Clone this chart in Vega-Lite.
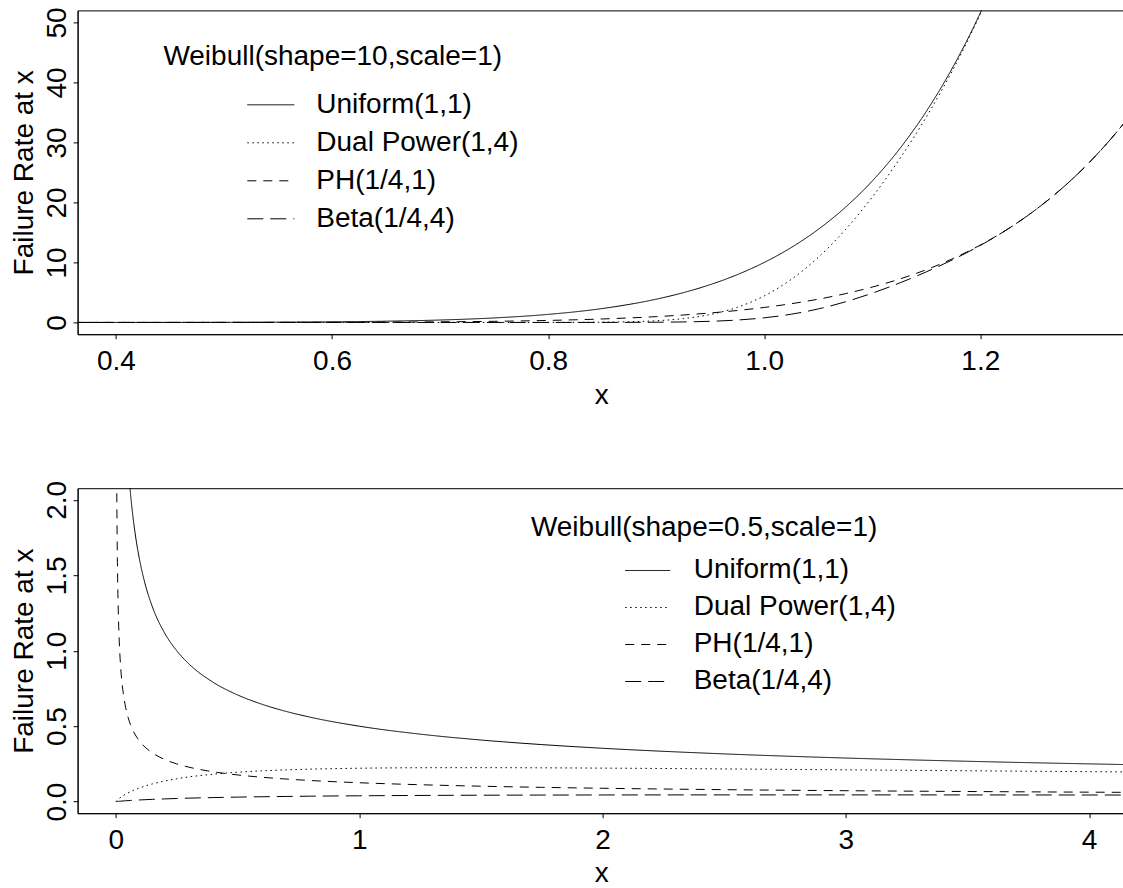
{
  "$schema": "https://vega.github.io/schema/vega-lite/v6.json",
  "background": "white",
  "padding": {"left": 9.6, "top": 6.4, "right": 0, "bottom": 0},
  "datasets": {
    "weibull10": [
      {"x": 0.36, "Uniform(1,1)": 0.00101, "Dual Power(1,4)": 0, "PH(1/4,1)": 0.00025, "Beta(1/4,4)": 0},
      {"x": 0.4, "Uniform(1,1)": 0.00262, "Dual Power(1,4)": 0, "PH(1/4,1)": 0.00066, "Beta(1/4,4)": 0},
      {"x": 0.45, "Uniform(1,1)": 0.0076, "Dual Power(1,4)": 0, "PH(1/4,1)": 0.0019, "Beta(1/4,4)": 0},
      {"x": 0.5, "Uniform(1,1)": 0.0195, "Dual Power(1,4)": 0, "PH(1/4,1)": 0.0049, "Beta(1/4,4)": 0},
      {"x": 0.55, "Uniform(1,1)": 0.046, "Dual Power(1,4)": 0, "PH(1/4,1)": 0.0115, "Beta(1/4,4)": 0},
      {"x": 0.6, "Uniform(1,1)": 0.1008, "Dual Power(1,4)": 0.0000001, "PH(1/4,1)": 0.0252, "Beta(1/4,4)": 0},
      {"x": 0.65, "Uniform(1,1)": 0.2071, "Dual Power(1,4)": 0.000002, "PH(1/4,1)": 0.0518, "Beta(1/4,4)": 0.0000002},
      {"x": 0.7, "Uniform(1,1)": 0.4035, "Dual Power(1,4)": 0.000034, "PH(1/4,1)": 0.1009, "Beta(1/4,4)": 0.0000033},
      {"x": 0.75, "Uniform(1,1)": 0.7508, "Dual Power(1,4)": 0.000466, "PH(1/4,1)": 0.1877, "Beta(1/4,4)": 0.0000463},
      {"x": 0.8, "Uniform(1,1)": 1.3422, "Dual Power(1,4)": 0.005089, "PH(1/4,1)": 0.3356, "Beta(1/4,4)": 0.000525},
      {"x": 0.85, "Uniform(1,1)": 2.316, "Dual Power(1,4)": 0.04346, "PH(1/4,1)": 0.579, "Beta(1/4,4)": 0.004792},
      {"x": 0.9, "Uniform(1,1)": 3.874, "Dual Power(1,4)": 0.28097, "PH(1/4,1)": 0.9686, "Beta(1/4,4)": 0.034516},
      {"x": 0.925, "Uniform(1,1)": 4.958, "Dual Power(1,4)": 0.6356, "PH(1/4,1)": 1.2394, "Beta(1/4,4)": 0.08399},
      {"x": 0.95, "Uniform(1,1)": 6.302, "Dual Power(1,4)": 1.3207, "PH(1/4,1)": 1.5756, "Beta(1/4,4)": 0.18995},
      {"x": 0.975, "Uniform(1,1)": 7.963, "Dual Power(1,4)": 2.5206, "PH(1/4,1)": 1.9906, "Beta(1/4,4)": 0.3981},
      {"x": 1.0, "Uniform(1,1)": 10, "Dual Power(1,4)": 4.4229, "PH(1/4,1)": 2.5, "Beta(1/4,4)": 0.76954},
      {"x": 1.025, "Uniform(1,1)": 12.489, "Dual Power(1,4)": 7.177, "PH(1/4,1)": 3.1222, "Beta(1/4,4)": 1.37062},
      {"x": 1.05, "Uniform(1,1)": 15.513, "Dual Power(1,4)": 10.854, "PH(1/4,1)": 3.8783, "Beta(1/4,4)": 2.25179},
      {"x": 1.075, "Uniform(1,1)": 19.173, "Dual Power(1,4)": 15.451, "PH(1/4,1)": 4.7932, "Beta(1/4,4)": 3.42967},
      {"x": 1.1, "Uniform(1,1)": 23.579, "Dual Power(1,4)": 20.905, "PH(1/4,1)": 5.8949, "Beta(1/4,4)": 4.87874},
      {"x": 1.125, "Uniform(1,1)": 28.865, "Dual Power(1,4)": 27.171, "PH(1/4,1)": 7.2163, "Beta(1/4,4)": 6.55628},
      {"x": 1.15, "Uniform(1,1)": 35.179, "Dual Power(1,4)": 34.253, "PH(1/4,1)": 8.7947, "Beta(1/4,4)": 8.42862},
      {"x": 1.175, "Uniform(1,1)": 42.692, "Dual Power(1,4)": 42.267, "PH(1/4,1)": 10.673, "Beta(1/4,4)": 10.5039},
      {"x": 1.2, "Uniform(1,1)": 51.598, "Dual Power(1,4)": 51.44, "PH(1/4,1)": 12.8995, "Beta(1/4,4)": 12.8362},
      {"x": 1.225, "Uniform(1,1)": 62.12, "Dual Power(1,4)": 62.07, "PH(1/4,1)": 15.53, "Beta(1/4,4)": 15.511},
      {"x": 1.25, "Uniform(1,1)": null, "Dual Power(1,4)": null, "PH(1/4,1)": 18.626, "Beta(1/4,4)": 18.622},
      {"x": 1.275, "Uniform(1,1)": null, "Dual Power(1,4)": null, "PH(1/4,1)": 22.261, "Beta(1/4,4)": 22.26},
      {"x": 1.3, "Uniform(1,1)": null, "Dual Power(1,4)": null, "PH(1/4,1)": 26.511, "Beta(1/4,4)": 26.51},
      {"x": 1.325, "Uniform(1,1)": null, "Dual Power(1,4)": null, "PH(1/4,1)": 31.47, "Beta(1/4,4)": 31.47},
      {"x": 1.34, "Uniform(1,1)": null, "Dual Power(1,4)": null, "PH(1/4,1)": 34.83, "Beta(1/4,4)": 34.83}
    ],
    "weibull05": [
      {"x": 0, "Uniform(1,1)": null, "Dual Power(1,4)": 0, "PH(1/4,1)": null, "Beta(1/4,4)": 0},
      {"x": 0.001, "Uniform(1,1)": 15.811, "Dual Power(1,4)": 0.001848, "PH(1/4,1)": 3.953, "Beta(1/4,4)": 0.00018},
      {"x": 0.002, "Uniform(1,1)": 11.18, "Dual Power(1,4)": 0.003578, "PH(1/4,1)": 2.795, "Beta(1/4,4)": 0.000352},
      {"x": 0.003, "Uniform(1,1)": 9.1287, "Dual Power(1,4)": 0.005234, "PH(1/4,1)": 2.2822, "Beta(1/4,4)": 0.00052},
      {"x": 0.004, "Uniform(1,1)": 7.9057, "Dual Power(1,4)": 0.006834, "PH(1/4,1)": 1.9764, "Beta(1/4,4)": 0.000683},
      {"x": 0.006, "Uniform(1,1)": 6.455, "Dual Power(1,4)": 0.009895, "PH(1/4,1)": 1.6137, "Beta(1/4,4)": 0.000998},
      {"x": 0.008, "Uniform(1,1)": 5.5902, "Dual Power(1,4)": 0.012807, "PH(1/4,1)": 1.3975, "Beta(1/4,4)": 0.001304},
      {"x": 0.01, "Uniform(1,1)": 5.0, "Dual Power(1,4)": 0.015598, "PH(1/4,1)": 1.25, "Beta(1/4,4)": 0.0016},
      {"x": 0.015, "Uniform(1,1)": 4.0825, "Dual Power(1,4)": 0.022134, "PH(1/4,1)": 1.0206, "Beta(1/4,4)": 0.00231},
      {"x": 0.02, "Uniform(1,1)": 3.5355, "Dual Power(1,4)": 0.028166, "PH(1/4,1)": 0.8839, "Beta(1/4,4)": 0.002982},
      {"x": 0.03, "Uniform(1,1)": 2.88675, "Dual Power(1,4)": 0.039084, "PH(1/4,1)": 0.72169, "Beta(1/4,4)": 0.004237},
      {"x": 0.04, "Uniform(1,1)": 2.5, "Dual Power(1,4)": 0.04882, "PH(1/4,1)": 0.625, "Beta(1/4,4)": 0.005395},
      {"x": 0.05, "Uniform(1,1)": 2.23607, "Dual Power(1,4)": 0.057619, "PH(1/4,1)": 0.559017, "Beta(1/4,4)": 0.006479},
      {"x": 0.06, "Uniform(1,1)": 2.04124, "Dual Power(1,4)": 0.065716, "PH(1/4,1)": 0.51031, "Beta(1/4,4)": 0.007504},
      {"x": 0.07, "Uniform(1,1)": 1.88982, "Dual Power(1,4)": 0.073134, "PH(1/4,1)": 0.472456, "Beta(1/4,4)": 0.00847},
      {"x": 0.08, "Uniform(1,1)": 1.76777, "Dual Power(1,4)": 0.079979, "PH(1/4,1)": 0.441942, "Beta(1/4,4)": 0.009384},
      {"x": 0.09, "Uniform(1,1)": 1.666667, "Dual Power(1,4)": 0.086379, "PH(1/4,1)": 0.416667, "Beta(1/4,4)": 0.010259},
      {"x": 0.1, "Uniform(1,1)": 1.58114, "Dual Power(1,4)": 0.092359, "PH(1/4,1)": 0.395285, "Beta(1/4,4)": 0.011095},
      {"x": 0.12, "Uniform(1,1)": 1.44338, "Dual Power(1,4)": 0.103233, "PH(1/4,1)": 0.360844, "Beta(1/4,4)": 0.012663},
      {"x": 0.15, "Uniform(1,1)": 1.29099, "Dual Power(1,4)": 0.117327, "PH(1/4,1)": 0.322749, "Beta(1/4,4)": 0.014796},
      {"x": 0.2, "Uniform(1,1)": 1.11803, "Dual Power(1,4)": 0.13638, "PH(1/4,1)": 0.279508, "Beta(1/4,4)": 0.017891},
      {"x": 0.25, "Uniform(1,1)": 1.0, "Dual Power(1,4)": 0.151419, "PH(1/4,1)": 0.25, "Beta(1/4,4)": 0.020537},
      {"x": 0.3, "Uniform(1,1)": 0.912871, "Dual Power(1,4)": 0.163547, "PH(1/4,1)": 0.228218, "Beta(1/4,4)": 0.022834},
      {"x": 0.4, "Uniform(1,1)": 0.790569, "Dual Power(1,4)": 0.181775, "PH(1/4,1)": 0.197642, "Beta(1/4,4)": 0.026646},
      {"x": 0.5, "Uniform(1,1)": 0.707107, "Dual Power(1,4)": 0.194526, "PH(1/4,1)": 0.176777, "Beta(1/4,4)": 0.029678},
      {"x": 0.6, "Uniform(1,1)": 0.645497, "Dual Power(1,4)": 0.203667, "PH(1/4,1)": 0.161374, "Beta(1/4,4)": 0.03214},
      {"x": 0.7, "Uniform(1,1)": 0.597614, "Dual Power(1,4)": 0.210298, "PH(1/4,1)": 0.149404, "Beta(1/4,4)": 0.034168},
      {"x": 0.8, "Uniform(1,1)": 0.559017, "Dual Power(1,4)": 0.21514, "PH(1/4,1)": 0.139754, "Beta(1/4,4)": 0.035859},
      {"x": 1.0, "Uniform(1,1)": 0.5, "Dual Power(1,4)": 0.221146, "PH(1/4,1)": 0.125, "Beta(1/4,4)": 0.038477},
      {"x": 1.25, "Uniform(1,1)": 0.447214, "Dual Power(1,4)": 0.22438, "PH(1/4,1)": 0.111803, "Beta(1/4,4)": 0.040742},
      {"x": 1.5, "Uniform(1,1)": 0.408248, "Dual Power(1,4)": 0.224886, "PH(1/4,1)": 0.102062, "Beta(1/4,4)": 0.042256},
      {"x": 1.75, "Uniform(1,1)": 0.377964, "Dual Power(1,4)": 0.223861, "PH(1/4,1)": 0.094491, "Beta(1/4,4)": 0.043265},
      {"x": 2.0, "Uniform(1,1)": 0.353553, "Dual Power(1,4)": 0.221906, "PH(1/4,1)": 0.088388, "Beta(1/4,4)": 0.043915},
      {"x": 2.5, "Uniform(1,1)": 0.316228, "Dual Power(1,4)": 0.216596, "PH(1/4,1)": 0.079057, "Beta(1/4,4)": 0.044508},
      {"x": 3.0, "Uniform(1,1)": 0.288675, "Dual Power(1,4)": 0.210537, "PH(1/4,1)": 0.072169, "Beta(1/4,4)": 0.044521},
      {"x": 3.5, "Uniform(1,1)": 0.267261, "Dual Power(1,4)": 0.204377, "PH(1/4,1)": 0.066815, "Beta(1/4,4)": 0.044205},
      {"x": 4.0, "Uniform(1,1)": 0.25, "Dual Power(1,4)": 0.198372, "PH(1/4,1)": 0.0625, "Beta(1/4,4)": 0.043693},
      {"x": 4.15, "Uniform(1,1)": 0.245439, "Dual Power(1,4)": 0.196627, "PH(1/4,1)": 0.06136, "Beta(1/4,4)": 0.043516}
    ]
  },
  "spacing": 153.8,
  "bounds": "flush",
  "vconcat": [
    {
      "width": 1047.3,
      "height": 323.8,
      "data": {"name": "weibull10"},
      "transform": [
        {"fold": ["Uniform(1,1)", "Dual Power(1,4)", "PH(1/4,1)", "Beta(1/4,4)"], "as": ["dist", "rate"]}
      ],
      "mark": {"type": "line", "color": "black", "strokeWidth": 1, "clip": true, "interpolate": "monotone"},
      "encoding": {
        "x": {
          "field": "x", "type": "quantitative",
          "scale": {"domain": [0.3645, 1.3338], "nice": false, "zero": false},
          "axis": {"title": "x", "values": [0.4, 0.6, 0.8, 1.0, 1.2], "format": ".1f", "labelPadding": 8.6, "titleY": 69, "titleBaseline": "alphabetic"}
        },
        "y": {
          "field": "rate", "type": "quantitative",
          "scale": {"domain": [-1.96, 52.02], "nice": false, "zero": false},
          "axis": {"title": "Failure Rate at x", "values": [0, 10, 20, 30, 40, 50], "labelAngle": 270, "labelAlign": "center", "labelBaseline": "alphabetic", "labelPadding": 7.2, "titleAngle": 270, "titleX": -44.7, "titleBaseline": "alphabetic"}
        },
        "strokeDash": {
          "field": "dist", "type": "nominal",
          "scale": {"domain": ["Uniform(1,1)", "Dual Power(1,4)", "PH(1/4,1)", "Beta(1/4,4)"], "range": [[1, 0], [1.5, 3.5], [9, 7], [16, 7]]},
          "legend": {"title": "Weibull(shape=10,scale=1)", "orient": "none", "legendX": 85.8, "legendY": 32.2, "symbolSize": 2209, "symbolOffset": 83.4, "labelOffset": 21.5, "titlePadding": 10.2}
        }
      }
    },
    {
      "width": 1047.3,
      "height": 325,
      "data": {"name": "weibull05"},
      "transform": [
        {"fold": ["Uniform(1,1)", "Dual Power(1,4)", "PH(1/4,1)", "Beta(1/4,4)"], "as": ["dist", "rate"]}
      ],
      "mark": {"type": "line", "color": "black", "strokeWidth": 1, "clip": true, "interpolate": "monotone"},
      "encoding": {
        "x": {
          "field": "x", "type": "quantitative",
          "scale": {"domain": [-0.1574, 4.147], "nice": false, "zero": false},
          "axis": {"title": "x", "values": [0, 1, 2, 3, 4], "format": "d", "labelPadding": 8.4, "titleY": 68, "titleBaseline": "alphabetic"}
        },
        "y": {
          "field": "rate", "type": "quantitative",
          "scale": {"domain": [-0.0769, 2.0776], "nice": false, "zero": false},
          "axis": {"title": "Failure Rate at x", "values": [0, 0.5, 1, 1.5, 2], "format": ".1f", "labelAngle": 270, "labelAlign": "center", "labelBaseline": "alphabetic", "labelPadding": 7.2, "titleAngle": 270, "titleX": -44.7, "titleBaseline": "alphabetic"}
        },
        "strokeDash": {
          "field": "dist", "type": "nominal",
          "scale": {"domain": ["Uniform(1,1)", "Dual Power(1,4)", "PH(1/4,1)", "Beta(1/4,4)"], "range": [[1, 0], [1.5, 3.5], [9, 7], [16, 7]]},
          "legend": {"title": "Weibull(shape=0.5,scale=1)", "orient": "none", "legendX": 453.3, "legendY": 26.3, "symbolSize": 2025, "symbolOffset": 93.8, "labelOffset": 23, "titlePadding": 5, "rowPadding": -0.6}
        }
      }
    }
  ],
  "resolve": {
    "scale": {"x": "independent", "y": "independent", "strokeDash": "independent"},
    "axis": {"x": "independent", "y": "independent"},
    "legend": {"strokeDash": "independent"}
  },
  "config": {
    "font": "Liberation Sans",
    "view": {"stroke": "black", "strokeWidth": 1},
    "axis": {
      "grid": false, "domainColor": "black", "domainWidth": 1, "tickColor": "black", "tickWidth": 1, "tickSize": 4.5,
      "labelColor": "black", "titleColor": "black", "labelFontSize": 28, "titleFontSize": 28, "titleFontWeight": "normal",
      "labelFlush": false, "labelOverlap": false
    },
    "legend": {
      "labelFontSize": 28, "titleFontSize": 28, "titleFontWeight": "normal", "labelColor": "black", "titleColor": "black",
      "labelLimit": 0, "titleLimit": 0, "symbolType": "stroke", "symbolStrokeWidth": 1, "symbolStrokeColor": "black",
      "padding": 0, "rowPadding": -1.3
    }
  }
}
